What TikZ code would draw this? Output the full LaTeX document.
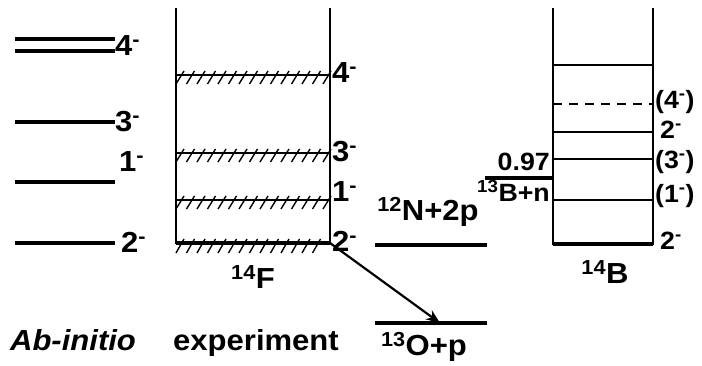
\documentclass[tikz,border=0pt]{standalone}
\usepackage{fontspec}
\setmainfont[FakeStretch=1.07]{Liberation Sans}
\usetikzlibrary{arrows.meta}
\newcommand{\mn}{\textsuperscript{-}}
\newcommand{\iso}[2]{\textsuperscript{#1}#2}
\begin{document}
\begin{tikzpicture}[x=1pt,y=-1pt,
    lvl/.style={line width=3.4pt},
    thinlvl/.style={line width=1.3pt},
    hatch/.style={line width=1.4pt},
    lab/.style={font=\fontsize{29}{31}\bfseries\selectfont,inner sep=1pt},
    smlab/.style={font=\fontsize{25}{27}\bfseries\selectfont,inner sep=1pt}]
    \useasboundingbox (0,0) rectangle (702,366);
    % Ab-initio levels
    \draw[lvl] (15,39) -- (115,39);
    \draw[lvl] (15,51) -- (115,51);
    \draw[lvl] (15,122) -- (115,122);
    \draw[lvl] (15,182) -- (115,182);
    \draw[lvl] (15,243) -- (115,243);
    \node[lab,anchor=west] (ai4) at (114,46) {4\mn};
    \node[lab,anchor=west] (ai3) at (114,122) {3\mn};
    \node[lab,anchor=west] (ai1) at (118,162) {1\mn};
    \node[lab,anchor=west] (ai2) at (120,242) {2\mn};
    % experiment (14F)
    \draw[thinlvl] (176,8) -- (176,244);
    \draw[thinlvl] (330,8) -- (330,244);
    \foreach \y in {75,153,200} {
        \draw[thinlvl] (176,\y) -- (330,\y);
        \foreach \x in {180,190.5,...,328} \draw[hatch] (\x-4,\y+9) -- (\x+4,\y-4);
    }
    \draw[lvl] (176,243) -- (330,243) coordinate (f2);
    \foreach \x in {180,190.5,...,322} \draw[hatch] (\x-4,253) -- (\x+4,239);
    \node[lab,anchor=west] (ex4) at (331,73) {4\mn};
    \node[lab,anchor=west] (ex3) at (331,152) {3\mn};
    \node[lab,anchor=west] (ex1) at (331,192) {1\mn};
    \node[lab,anchor=west] (ex2) at (331,241) {2\mn};
    \node[lab] (f14) at (253,277) {\iso{14}{F}};
    % thresholds
    \draw[lvl] (375,245) -- (487,245);
    \node[lab] (n12) at (428,212) {\iso{12}{N}+2p};
    \draw[lvl] (375,323) -- (487,323);
    \coordinate (o13) at (440,323);
    \node[lab] (o13lab) at (424,347) {\iso{13}{O}+p};
    \draw[line width=2.2pt,-{Stealth[length=14pt,width=11pt]}] (f2) -- (o13);
    % 14B
    \draw[thinlvl] (553,8) -- (553,245);
    \draw[thinlvl] (653,8) -- (653,245);
    \draw[lvl] (553,244) -- (653,244);
    \foreach \y in {65,132,159,200} \draw[thinlvl] (553,\y) -- (653,\y);
    \draw[line width=1.8pt,dash pattern=on 9pt off 7pt] (553,104) -- (653,104);
    \draw[lvl] (485,178) -- (553,178);
    \node[smlab,anchor=east] (b97) at (551,162) {0.97};
    \node[smlab,anchor=east] (b13) at (551,191) {\iso{13}{B}+n};
    \node[smlab,anchor=west] (b4) at (654,102) {(4\mn)};
    \node[smlab,anchor=west] (b2a) at (659,130) {2\mn};
    \node[smlab,anchor=west] (b3) at (654,162) {(3\mn)};
    \node[smlab,anchor=west] (b1) at (654,196) {(1\mn)};
    \node[smlab,anchor=west] (b2) at (659,241) {2\mn};
    \node[lab] (b14) at (605,272) {\iso{14}{B}};
    % bottom captions
    \node[lab,anchor=base] (abin) at (73,350) {\itshape Ab-initio};
    \node[lab,anchor=base] (expt) at (256,350) {experiment};
\end{tikzpicture}
\end{document}
